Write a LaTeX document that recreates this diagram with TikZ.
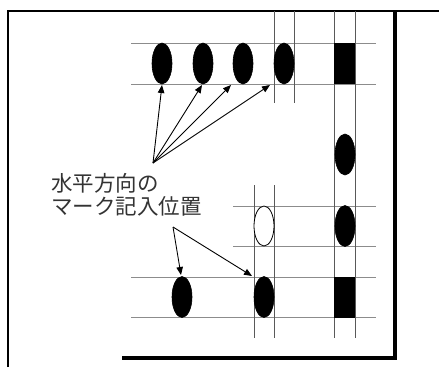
\documentclass[tikz,border=0pt]{standalone}
\usepackage{fontspec}
\newfontfamily\jpfont{Noto Sans CJK JP}
\usetikzlibrary{shapes.geometric,arrows.meta}
\tikzset{
  markfill/.style={ellipse, fill=black, draw=black, line width=0.6pt, minimum width=20pt, minimum height=41pt, inner sep=0pt},
  markhollow/.style={ellipse, fill=white, draw=black, line width=0.8pt, minimum width=20pt, minimum height=40pt, inner sep=0pt},
  marksq/.style={rectangle, fill=black, minimum width=21pt, minimum height=41pt, inner sep=0pt},
  hline/.style={draw=black!45, line width=1pt},
  vline/.style={draw=black!65, line width=0.8pt},
  frame/.style={draw=black, line width=2.4pt},
  framethick/.style={draw=black, line width=4pt},
  pointer/.style={draw=black, line width=0.9pt, -{Triangle[length=8pt,width=6.5pt]}},
  label/.style={font=\jpfont\fontsize{21.5}{23}\selectfont, text=black!80, align=left, inner sep=0pt}
}
\begin{document}
\begin{tikzpicture}[x=1pt,y=-1pt]
\useasboundingbox (0,0) rectangle (439,367);
% frame
\draw[frame] (8,367) -- (8,11) -- (439,11);
\draw[framethick] (122,357.5) -- (394.5,357.5) -- (394.5,11);
% horizontal guide lines
\draw[hline] (131,43) -- (376,43);
\draw[hline] (131,84) -- (376,84);
\draw[hline] (233,206) -- (376,206);
\draw[hline] (233,246) -- (376,246);
\draw[hline] (131,277) -- (376,277);
\draw[hline] (131,317) -- (376,317);
% vertical guide lines
\draw[vline] (274,11) -- (274,103);
\draw[vline] (294,11) -- (294,103);
\draw[vline] (334,11) -- (334,338);
\draw[vline] (355,11) -- (355,338);
\draw[vline] (254,185) -- (254,338);
\draw[vline] (274,185) -- (274,338);
% marks
\node[markfill] (t1) at (162,63.5) {};
\node[markfill] (t2) at (203,63.5) {};
\node[markfill] (t3) at (243,63.5) {};
\node[markfill] (t4) at (284,63.5) {};
\node[marksq]   (ts) at (344.5,63.5) {};
\node[markfill] (r1) at (345,154.5) {};
\node[markhollow] (h1) at (264,226) {};
\node[markfill] (r2) at (345,226) {};
\node[markfill] (b1) at (182,297) {};
\node[markfill] (b2) at (264,297) {};
\node[marksq]   (bs) at (344.5,297) {};
% label
\node[label, anchor=north west] (lbl) at (51,173) {水平方向の\\マーク記入位置};
% pointers
\coordinate (o1) at (153,163);
\coordinate (o2) at (173,227);
\coordinate (p1) at (162,85);
\coordinate (p2) at (202,85);
\coordinate (p3) at (231,85);
\coordinate (p4) at (270,85);
\coordinate (p5) at (181,275);
\coordinate (p6) at (252,276);
\draw[pointer] (o1) -- (p1);
\draw[pointer] (o1) -- (p2);
\draw[pointer] (o1) -- (p3);
\draw[pointer] (o1) -- (p4);
\draw[pointer] (o2) -- (p5);
\draw[pointer] (o2) -- (p6);
\end{tikzpicture}
\end{document}
